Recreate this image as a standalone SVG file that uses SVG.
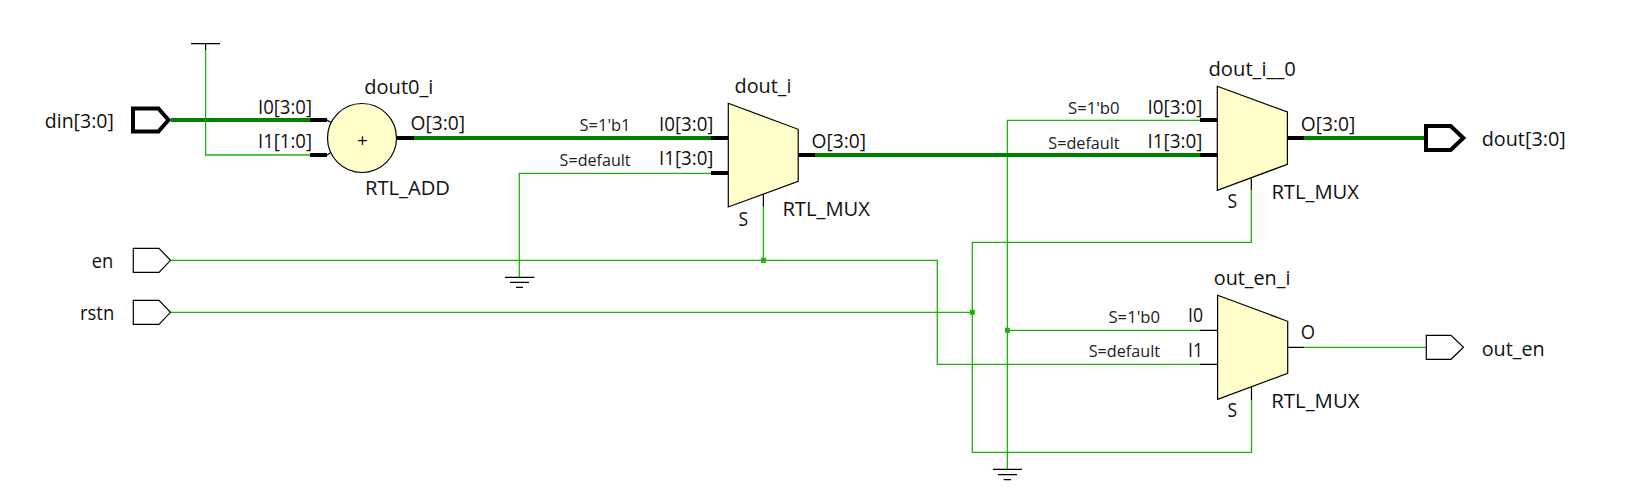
<svg xmlns="http://www.w3.org/2000/svg" width="1628" height="502" viewBox="0 0 1628 502">
<style>
text{font-family:"Open Sans","Noto Sans","Liberation Sans",sans-serif;fill:#111}
.l{font-size:20px}
.s{font-size:15.5px;fill:#222}
.p{font-size:19px}
.shape{fill:#ffffcc;stroke:#000;stroke-width:1.2}
.port{fill:#fff;stroke:#000;stroke-width:1.2}
.bport{fill:#fff;stroke:#000;stroke-width:4}
.w{fill:none;stroke:#1fb20c;stroke-width:1.3}
.b{fill:none;stroke:#008000;stroke-width:3.8}
.kt{fill:none;stroke:#000;stroke-width:1.2}
.kb{fill:none;stroke:#000;stroke-width:3.8}
.dot{fill:#1fb20c}
</style>
<g id="connectors">
<path class="b" d="M171 120H310"/>
<path class="w" d="M205.6 50V155H310"/>
<path class="b" d="M414 138H711"/>
<path class="w" d="M519.3 277V173.3H711"/>
<path class="w" d="M170 260.3H937.3V364.3H1200"/>
<path class="w" d="M763.4 206.7V260.3"/>
<path class="w" d="M170 312.3H972.3"/>
<path class="w" d="M1251.3 190V242.3H972.3V452.3H1251.5V400"/>
<path class="w" d="M1200 120.3H1007.4V469.3"/>
<path class="w" d="M1007.4 330.3H1200"/>
<path class="b" d="M815 155H1200"/>
<path class="b" d="M1304 138H1425"/>
<path class="w" d="M1304 347.3H1427"/>
<rect class="dot" x="761" y="257.8" width="5" height="5"/>
<rect class="dot" x="969.8" y="309.8" width="5" height="5"/>
<rect class="dot" x="1004.9" y="327.8" width="5" height="5"/>
</g>
<g id="vcc"><path class="kt" d="M191 43.7H220M205.6 43.7V50"/></g>
<g id="gnd1"><path class="kt" d="M505 277.3H534.4M510 282.3H529M516 287.3H523"/></g>
<g id="gnd2"><path class="kt" d="M993 469.3H1022M998 474.7H1017M1003.6 479.7H1011"/></g>
<g id="din">
<path class="bport" d="M133 108.5H158.4L168.5 120L158.4 131.5H133Z"/>
<text class="l" x="44.8" y="128.3" textLength="69" lengthAdjust="spacingAndGlyphs">din[3:0]</text>
</g>
<g id="en">
<path class="port" d="M133.3 248.3H159L170.5 260.3L159 272.3H133.3Z"/>
<text class="l" x="91.7" y="268.3" textLength="21.5" lengthAdjust="spacingAndGlyphs">en</text>
</g>
<g id="rstn">
<path class="port" d="M133.3 300.3H159L170.5 312.3L159 324.3H133.3Z"/>
<text class="l" x="80" y="320" textLength="34.3" lengthAdjust="spacingAndGlyphs">rstn</text>
</g>
<g id="dout0_i">
<path class="kb" d="M310 120H327M310 155H327M397 138H414"/>
<path class="kt" d="M327 120L331 122.5M327 155L331 152.5"/>
<circle class="shape" cx="362" cy="138" r="34.5"/>
<text class="p" x="357" y="146.5">+</text>
<text class="l" x="364.3" y="94" textLength="69" lengthAdjust="spacingAndGlyphs">dout0_i</text>
<text class="l" x="365" y="195" textLength="85" lengthAdjust="spacingAndGlyphs">RTL_ADD</text>
<text class="l" x="258" y="113.7" textLength="54" lengthAdjust="spacingAndGlyphs">I0[3:0]</text>
<text class="l" x="258" y="148.3" textLength="54" lengthAdjust="spacingAndGlyphs">I1[1:0]</text>
<text class="l" x="410.5" y="130" textLength="54.5" lengthAdjust="spacingAndGlyphs">O[3:0]</text>
</g>
<g id="dout_i">
<path class="kb" d="M711 138H728M711 173H728M798 155H815"/>
<path class="kt" d="M763.4 193.3V206.7"/>
<path class="shape" d="M728.3 103.3L798.2 129.3V181.3L728.3 207Z"/>
<text class="l" x="734.5" y="93.3" textLength="57" lengthAdjust="spacingAndGlyphs">dout_i</text>
<text class="s" x="579.5" y="131.3" textLength="51" lengthAdjust="spacingAndGlyphs">S=1'b1</text>
<text class="s" x="559.6" y="165.7" textLength="71" lengthAdjust="spacingAndGlyphs">S=default</text>
<text class="l" x="659" y="130.7" textLength="54.5" lengthAdjust="spacingAndGlyphs">I0[3:0]</text>
<text class="l" x="659" y="165.3" textLength="54.5" lengthAdjust="spacingAndGlyphs">I1[3:0]</text>
<text class="l" x="811.6" y="148" textLength="54.5" lengthAdjust="spacingAndGlyphs">O[3:0]</text>
<text class="l" x="782.4" y="216" textLength="87.6" lengthAdjust="spacingAndGlyphs">RTL_MUX</text>
<text class="l" x="738.6" y="226" textLength="9.6" lengthAdjust="spacingAndGlyphs">S</text>
</g>
<g id="dout_i__0">
<path class="kb" d="M1200 120H1217M1200 155H1217M1287 138H1304"/>
<path class="kt" d="M1251.3 176.7V190"/>
<path class="shape" d="M1217.3 86.3L1287.4 112V164.3L1217.3 190.3Z"/>
<text class="l" x="1208.5" y="75.7" textLength="87.3" lengthAdjust="spacingAndGlyphs">dout_i__0</text>
<text class="s" x="1068" y="114" textLength="51.6" lengthAdjust="spacingAndGlyphs">S=1'b0</text>
<text class="s" x="1048.3" y="149" textLength="71.3" lengthAdjust="spacingAndGlyphs">S=default</text>
<text class="l" x="1147.5" y="113.7" textLength="54.9" lengthAdjust="spacingAndGlyphs">I0[3:0]</text>
<text class="l" x="1147.5" y="148" textLength="54.9" lengthAdjust="spacingAndGlyphs">I1[3:0]</text>
<text class="l" x="1300.8" y="131" textLength="54.5" lengthAdjust="spacingAndGlyphs">O[3:0]</text>
<text class="l" x="1271.4" y="199.3" textLength="87.6" lengthAdjust="spacingAndGlyphs">RTL_MUX</text>
<text class="l" x="1227.6" y="208" textLength="9.6" lengthAdjust="spacingAndGlyphs">S</text>
</g>
<g id="out_en_i">
<path class="kt" d="M1200 330.3H1217.6M1200 364.3H1217.6M1287.7 347.3H1304M1251.5 386V400"/>
<path class="shape" d="M1217.6 295.3L1287.7 321.3V373.3L1217.6 399.3Z"/>
<text class="l" x="1213.8" y="285" textLength="76.6" lengthAdjust="spacingAndGlyphs">out_en_i</text>
<text class="s" x="1108.5" y="322.7" textLength="51.5" lengthAdjust="spacingAndGlyphs">S=1'b0</text>
<text class="s" x="1088.7" y="357.3" textLength="71.3" lengthAdjust="spacingAndGlyphs">S=default</text>
<text class="l" x="1188" y="321.7" textLength="15" lengthAdjust="spacingAndGlyphs">I0</text>
<text class="l" x="1188" y="356.7" textLength="15" lengthAdjust="spacingAndGlyphs">I1</text>
<text class="l" x="1300.7" y="338.7" textLength="14.3" lengthAdjust="spacingAndGlyphs">O</text>
<text class="l" x="1271.3" y="407.7" textLength="88.2" lengthAdjust="spacingAndGlyphs">RTL_MUX</text>
<text class="l" x="1227.5" y="417.3" textLength="9.6" lengthAdjust="spacingAndGlyphs">S</text>
</g>
<g id="dout">
<path class="bport" d="M1426 126H1450.7L1463.3 138L1450.7 150H1426Z"/>
<text class="l" x="1481.7" y="146" textLength="84" lengthAdjust="spacingAndGlyphs">dout[3:0]</text>
</g>
<g id="out_en">
<path class="port" d="M1426.3 335.3H1451L1463.5 347.3L1451 359.3H1426.3Z"/>
<text class="l" x="1481.7" y="355.5" textLength="63" lengthAdjust="spacingAndGlyphs">out_en</text>
</g>
</svg>
